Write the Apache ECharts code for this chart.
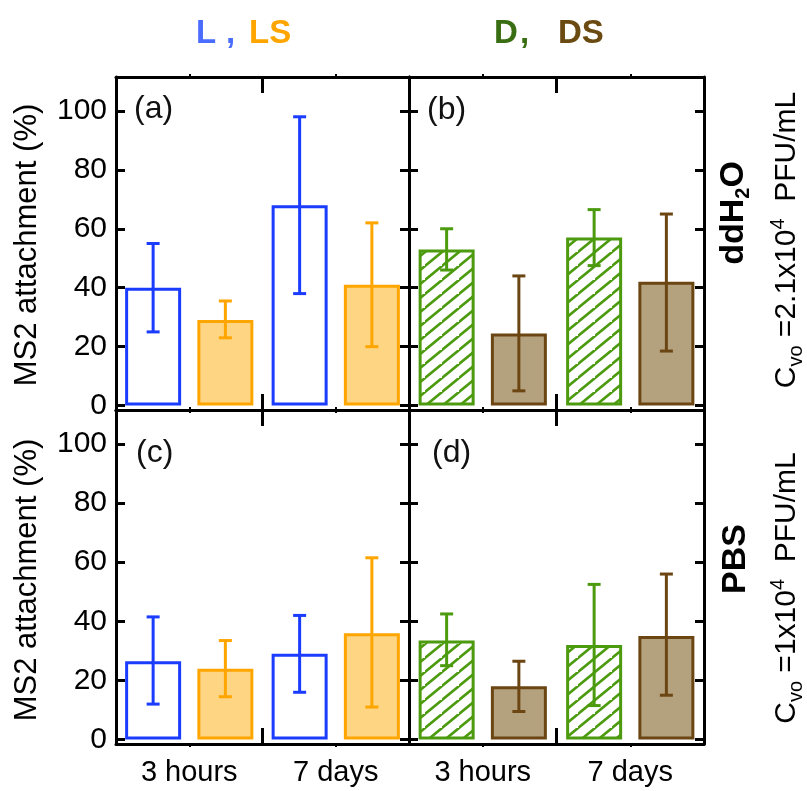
<!DOCTYPE html>
<html>
<head>
<meta charset="utf-8">
<script src="https://cdn.jsdelivr.net/npm/echarts@6/dist/echarts.min.js"></script>
<style>html,body{margin:0;padding:0;background:#fff;}#c{width:807px;height:791px;}</style>
</head>
<body>
<div id="c"></div>
<script>
// ---- data ----
const categories = ['3 hours', '7 days'];
const yTicks = [0, 20, 40, 60, 80, 100];

// panel (a) ddH2O, L / LS
const a_L = [40, 68];     const a_L_lo = [25, 38];   const a_L_hi = [55, 98];
const a_LS = [29, 41];    const a_LS_lo = [23, 20];  const a_LS_hi = [35.5, 62];
// panel (b) ddH2O, D / DS
const b_D = [53, 57];     const b_D_lo = [46, 47.5]; const b_D_hi = [60, 66.5];
const b_DS = [24.5, 42];  const b_DS_lo = [5, 18.5]; const b_DS_hi = [44, 65];
// panel (c) PBS, L / LS
const c_L = [26.5, 29];   const c_L_lo = [12, 16];   const c_L_hi = [41.5, 42];
const c_LS = [24, 36];    const c_LS_lo = [14.5, 11];const c_LS_hi = [33.5, 61.5];
// panel (d) PBS, D / DS
const d_D = [33.5, 32];   const d_D_lo = [25, 11.5]; const d_D_hi = [42.5, 52.5];
const d_DS = [18, 35];    const d_DS_lo = [9.5, 15]; const d_DS_hi = [26.5, 56];

// ---- styles ----
const FONT = 'Liberation Sans, Arial, Helvetica, sans-serif';
const C_L = '#1a3cff', C_LS = '#ffa500', C_LS_FILL = '#fdd583';
const C_D = '#4c9a0e', C_DS = '#6b4512', C_DS_FILL = '#b4a27f';

function hatch(color) {
  const w = 17, h = 14;
  const cv = document.createElement('canvas');
  cv.width = w; cv.height = h;
  const ctx = cv.getContext('2d');
  ctx.fillStyle = '#fff'; ctx.fillRect(0, 0, w, h);
  ctx.strokeStyle = color; ctx.lineWidth = 2.6; ctx.lineCap = 'square';
  ctx.beginPath();
  ctx.moveTo(0, h); ctx.lineTo(w, 0);
  ctx.moveTo(-w, h); ctx.lineTo(0, 0);
  ctx.moveTo(w, 2 * h); ctx.lineTo(2 * w, h);
  ctx.moveTo(-w / 2, h * 1.5); ctx.lineTo(w / 2, h / 2);
  ctx.stroke();
  return { image: cv, repeat: 'repeat' };
}

const panels = [
  { grid: { left: 116, top: 77, width: 293, height: 333 }, labels: false, yLabels: true,
    s: [ { name: 'L', v: a_L, lo: a_L_lo, hi: a_L_hi, fill: '#fff', stroke: C_L },
         { name: 'LS', v: a_LS, lo: a_LS_lo, hi: a_LS_hi, fill: C_LS_FILL, stroke: C_LS } ] },
  { grid: { left: 409, top: 77, width: 295, height: 333 }, labels: false, yLabels: false,
    s: [ { name: 'D', v: b_D, lo: b_D_lo, hi: b_D_hi, fill: 'hatch', stroke: C_D },
         { name: 'DS', v: b_DS, lo: b_DS_lo, hi: b_DS_hi, fill: C_DS_FILL, stroke: C_DS } ] },
  { grid: { left: 116, top: 410, width: 293, height: 334 }, labels: true, yLabels: true,
    s: [ { name: 'L', v: c_L, lo: c_L_lo, hi: c_L_hi, fill: '#fff', stroke: C_L },
         { name: 'LS', v: c_LS, lo: c_LS_lo, hi: c_LS_hi, fill: C_LS_FILL, stroke: C_LS } ] },
  { grid: { left: 409, top: 410, width: 295, height: 334 }, labels: true, yLabels: false,
    s: [ { name: 'D', v: d_D, lo: d_D_lo, hi: d_D_hi, fill: 'hatch', stroke: C_D },
         { name: 'DS', v: d_DS, lo: d_DS_lo, hi: d_DS_hi, fill: C_DS_FILL, stroke: C_DS } ] }
];

const BAR_W = 56, BAR_GAP = 0.29;
const OFFSET = BAR_W * (1 + BAR_GAP) / 2;

const grid = [], xAxis = [], yAxis = [], series = [];
const lineStyle = { color: '#000', width: 3 };

panels.forEach((p, g) => {
  grid.push(p.grid);
  const xi = xAxis.length;
  ['bottom', 'top'].forEach((pos) => {
    xAxis.push({
      type: 'category', gridIndex: g, data: categories, position: pos,
      axisLine: { show: true, onZero: false, lineStyle },
      axisTick: { show: true, inside: true, length: 16, lineStyle: { color: '#000', width: 3 } },
      axisLabel: { show: p.labels && pos === 'bottom', fontSize: 29, color: '#000', margin: 14, fontFamily: FONT },
      splitLine: { show: false }
    });
  });
  ['bottom', 'top'].forEach((pos) => {
    xAxis.push({
      type: 'category', gridIndex: g, data: categories, position: pos,
      axisLine: { show: false, onZero: false },
      axisTick: { show: true, inside: false, alignWithLabel: true, length: 3, lineStyle: { color: '#000', width: 2 } },
      axisLabel: { show: false }, splitLine: { show: false }
    });
  });
  const yi = yAxis.length;
  ['left', 'right'].forEach((pos) => {
    yAxis.push({
      type: 'value', gridIndex: g, min: -1.5, max: 111.5, position: pos,
      axisLine: { show: true, onZero: false, lineStyle },
      axisTick: { show: true, inside: true, length: 9, customValues: yTicks, lineStyle: { color: '#000', width: 3 } },
      axisLabel: { show: p.yLabels && pos === 'left', customValues: yTicks, fontSize: 30, color: '#000', margin: 9, fontFamily: FONT },
      splitLine: { show: false }
    });
  });
  p.s.forEach((s, k) => {
    series.push({
      type: 'bar', name: s.name, xAxisIndex: xi, yAxisIndex: yi, data: s.v,
      barWidth: BAR_W, barGap: (BAR_GAP * 100) + '%', z: 2,
      itemStyle: { color: s.fill === 'hatch' ? hatch(s.stroke) : s.fill, borderColor: s.stroke, borderWidth: 3 },
      silent: true
    });
  });
  p.s.forEach((s, k) => {
    const off = (k === 0 ? -1 : 1) * OFFSET;
    series.push({
      type: 'custom', xAxisIndex: xi, yAxisIndex: yi, z: 5, clip: false, silent: true,
      data: s.v.map((_, i) => [i, s.lo[i], s.hi[i]]),
      encode: { x: 0, y: [1, 2] },
      renderItem: (params, api) => {
        const c = api.value(0);
        const lo = api.coord([c, api.value(1)]);
        const hi = api.coord([c, api.value(2)]);
        const x = lo[0] + off, cap = 6.5;
        const st = { stroke: s.stroke, lineWidth: 3 };
        return { type: 'group', children: [
          { type: 'line', shape: { x1: x, y1: lo[1], x2: x, y2: hi[1] }, style: st },
          { type: 'line', shape: { x1: x - cap, y1: lo[1], x2: x + cap, y2: lo[1] }, style: st },
          { type: 'line', shape: { x1: x - cap, y1: hi[1], x2: x + cap, y2: hi[1] }, style: st }
        ] };
      }
    });
  });
});

const mainRich = (size, bold) => ({ fontSize: size, fontWeight: bold ? 'bold' : 'normal', fontFamily: FONT, fill: '#000', lineHeight: 38 });
const subRich = (bold) => ({ fontSize: 20, fontWeight: bold ? 'bold' : 'normal', fontFamily: FONT, fill: '#000', lineHeight: 17, verticalAlign: 'bottom' });
const supRich = (bold) => ({ fontSize: 20, fontWeight: bold ? 'bold' : 'normal', fontFamily: FONT, fill: '#000', lineHeight: 17, verticalAlign: 'top' });

function rotText(x, y, text, rich) {
  return { type: 'text', x, y, rotation: Math.PI / 2, silent: true,
    style: { text, rich, align: 'center', verticalAlign: 'middle', fontFamily: FONT } };
}
function legText(x, text, color) {
  return { type: 'text', x, y: 34, silent: true,
    style: { text, fill: color, fontSize: 33, fontWeight: 'bold', fontFamily: FONT, align: 'left', verticalAlign: 'middle' } };
}

const graphic = [
  legText(196, 'L', '#4a6cff'), legText(226, ',', '#4a6cff'), legText(249, 'LS', '#ffa500'),
  legText(494, 'D', '#3a6e12'), legText(520, ',', '#3a6e12'), legText(558, 'DS', '#6b4a12'),
  { type: 'text', x: 134, y: 109, silent: true, style: { text: '(a)', fontSize: 32, fontFamily: FONT, fill: '#111', verticalAlign: 'middle' } },
  { type: 'text', x: 427, y: 110, silent: true, style: { text: '(b)', fontSize: 32, fontFamily: FONT, fill: '#111', verticalAlign: 'middle' } },
  { type: 'text', x: 136, y: 453, silent: true, style: { text: '(c)', fontSize: 32, fontFamily: FONT, fill: '#111', verticalAlign: 'middle' } },
  { type: 'text', x: 432, y: 453, silent: true, style: { text: '(d)', fontSize: 32, fontFamily: FONT, fill: '#111', verticalAlign: 'middle' } },
  rotText(27, 245, '{m|MS2 attachment (%)}', { m: mainRich(31, false) }),
  rotText(27, 580, '{m|MS2 attachment (%)}', { m: mainRich(31, false) }),
  rotText(734, 213, '{m|ddH}{s|2}{m|O}', { m: mainRich(34, true), s: subRich(true) }),
  rotText(787, 240, '{m|C}{s|vo}{m| =2.1x10}{p|4}{m|  PFU/mL}', { m: mainRich(30, false), s: subRich(false), p: supRich(false) }),
  rotText(736, 559, '{m|PBS}', { m: mainRich(34, true) }),
  rotText(787, 588, '{m|C}{s|vo}{m| =1x10}{p|4}{m|  PFU/mL}', { m: mainRich(30, false), s: subRich(false), p: supRich(false) })
];

const chart = echarts.init(document.getElementById('c'), null, { renderer: 'canvas' });
chart.setOption({
  animation: false,
  backgroundColor: '#fff',
  textStyle: { fontFamily: FONT },
  grid, xAxis, yAxis, series, graphic
});
</script>
</body>
</html>
